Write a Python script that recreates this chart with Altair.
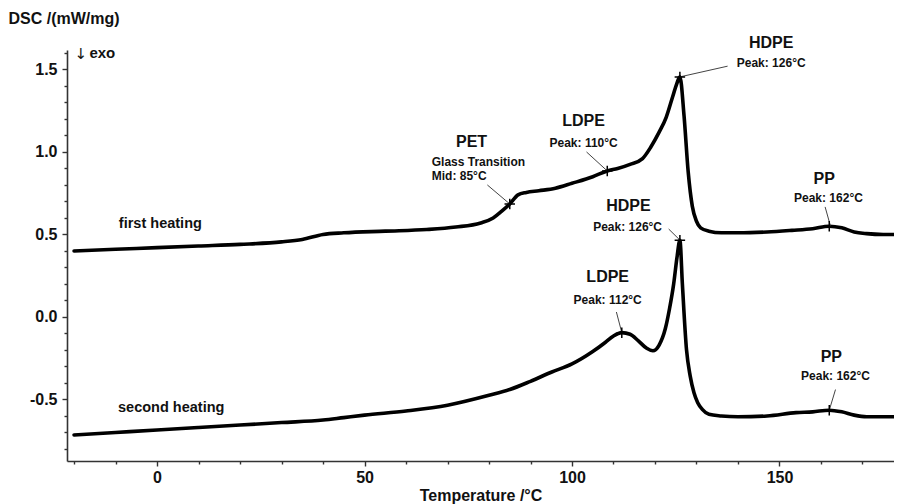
import altair as alt
import pandas as pd

# ---- curve data (Temperature °C, DSC mW/mg) ----
T_first = [-20, -10, 0, 10, 20, 30, 35, 40, 45, 55, 65, 72, 78, 81, 83, 85, 87, 89, 92, 96,
           100, 105, 108.5, 111, 114, 117, 119, 121, 122.7, 124.2, 125.2, 126, 127, 128, 129,
           130, 131, 133, 136, 140, 147, 153, 158, 162, 165, 168, 171, 175, 178]
V_first = [0.40, 0.41, 0.42, 0.43, 0.44, 0.455, 0.47, 0.50, 0.51, 0.52, 0.53, 0.545, 0.57, 0.60,
           0.64, 0.685, 0.74, 0.755, 0.765, 0.78, 0.81, 0.85, 0.885, 0.90, 0.925, 0.96, 1.03,
           1.12, 1.21, 1.33, 1.41, 1.455, 1.22, 0.88, 0.67, 0.58, 0.54, 0.52, 0.51, 0.51, 0.515,
           0.525, 0.535, 0.55, 0.54, 0.515, 0.505, 0.50, 0.50]

T_second = [-20, -10, 0, 10, 20, 30, 40, 45, 50, 60, 70, 80, 85, 90, 95, 100, 105, 108, 110,
            112, 114, 116, 118, 119.5, 121, 122.5, 123.5, 124.5, 125.3, 126, 126.6, 127.6, 128.5,
            129.4, 130.3, 131.4, 133, 136, 140, 147, 154, 158, 162, 165, 168, 171, 175, 178]
V_second = [-0.715, -0.70, -0.685, -0.67, -0.655, -0.64, -0.625, -0.61, -0.595, -0.57, -0.535,
            -0.475, -0.44, -0.39, -0.335, -0.285, -0.21, -0.155, -0.115, -0.095, -0.105, -0.145,
            -0.19, -0.205, -0.17, -0.07, 0.05, 0.20, 0.36, 0.465, 0.20, -0.20, -0.36, -0.46,
            -0.52, -0.56, -0.59, -0.60, -0.605, -0.60, -0.58, -0.575, -0.565, -0.575, -0.595,
            -0.605, -0.605, -0.605]

# ---- peak markers ----
mark_T = [85, 108.5, 126, 162, 112, 126, 162]
mark_V = [0.685, 0.885, 1.455, 0.55, -0.095, 0.465, -0.565]

# ---- leader lines (label end -> marker) ----
lead_T = [79.6, 103.5, 137.5, 161, 123.3, 110.7, 163.5]
lead_V = [0.80, 1.00, 1.52, 0.667, 0.533, 0.03, -0.44]
lead_T2 = [85, 108.5, 126, 162.3, 126, 112, 162]
lead_V2 = [0.685, 0.885, 1.455, 0.55, 0.466, -0.095, -0.565]

# ---- annotation texts ----
name_txt = ["PET", "LDPE", "HDPE", "PP", "HDPE", "LDPE", "PP"]
name_T = [75.8, 102.8, 148, 160.8, 113.6, 108.6, 162.5]
name_V = [1.06, 1.19, 1.66, 0.836, 0.673, 0.24, -0.24]

peak_txt = ["Peak: 110°C", "Peak: 126°C", "Peak: 162°C", "Peak: 126°C", "Peak: 112°C", "Peak: 162°C"]
peak_T = [102.8, 148, 161.8, 113.4, 108.6, 163.5]
peak_V = [1.055, 1.54, 0.72, 0.545, 0.10, -0.36]

gt_txt = ["Glass Transition", "Mid: 85°C"]
gt_T = [66.2, 66.2]
gt_V = [0.94, 0.855]

run_txt = ["first heating", "second heating"]
run_T = [-9.2, -9.4]
run_V = [0.565, -0.55]

arrow_txt = ["↓"]
arrow_T = [-19.9]
arrow_V = [1.595]
exo_txt = ["exo"]
exo_T = [-16.3]
exo_V = [1.60]

x_ticks = list(range(-20, 180, 10))
y_ticks = [round(i * 0.1, 1) for i in range(-8, 17)]

FONT = "Liberation Sans"
xs = alt.Scale(domain=[-21.7, 177.6], nice=False, zero=False)
ys = alt.Scale(domain=[-0.873, 1.618], nice=False, zero=False)

MAJ_Y = "abs(datum.value*2 - round(datum.value*2)) < 0.001"
x_axis = alt.Axis(
    values=x_ticks, title="Temperature /°C", grid=False,
    labelExpr="datum.value % 50 === 0 ? format(datum.value, 'd') : ''",
    labelOverlap=False, labelFlush=False,
    tickSize={"condition": {"test": "datum.value % 50 === 0", "value": 5}, "value": 3},
    labelFont=FONT, labelFontSize=16, labelFontWeight="bold", labelColor="#111",
    labelPadding=3, titleFont=FONT, titleFontSize=16, titleFontWeight="bold",
    titleColor="#111", titlePadding=2,
)
y_axis = alt.Axis(
    values=y_ticks, title="DSC /(mW/mg)", grid=False,
    labelExpr=MAJ_Y + " ? replace(format(datum.value, '.1f'), '\u2212', '-') : ''",
    labelOverlap=False, labelFlush=False,
    tickSize={"condition": {"test": MAJ_Y, "value": 5}, "value": 3},
    labelFont=FONT, labelFontSize=16, labelFontWeight="bold", labelColor="#111",
    labelPadding=5, titleFont=FONT, titleFontSize=16, titleFontWeight="bold",
    titleColor="#111", titleAngle=0, titleAlign="left", titleBaseline="middle",
    titleX=-59, titleY=-32,
)


def X(field):
    return alt.X(field, type="quantitative", scale=xs, axis=x_axis)


def Y(field):
    return alt.Y(field, type="quantitative", scale=ys, axis=y_axis)


lines_df = pd.DataFrame({
    "T": T_first + T_second,
    "v": V_first + V_second,
    "run": ["first"] * len(T_first) + ["second"] * len(T_second),
})

lines = alt.Chart(lines_df).mark_line(
    color="black", strokeWidth=3.6, interpolate="monotone", strokeCap="round", strokeJoin="round"
).encode(x=X("T"), y=Y("v"), detail="run:N")

leaders = alt.Chart(pd.DataFrame({"T": lead_T, "v": lead_V, "a2": lead_T2, "b2": lead_V2})).mark_rule(
    color="#444", strokeWidth=1
).encode(x=X("T"), y=Y("v"), x2="a2:Q", y2="b2:Q")

markers = alt.Chart(pd.DataFrame({"T": mark_T, "v": mark_V})).mark_point(
    shape="M-1,0L1,0M0,-1L0,1", size=110, color="black", strokeWidth=1.5, filled=False, opacity=1
).encode(x=X("T"), y=Y("v"))


def text_layer(txt, tx, ty, size, align="center", font=FONT, weight="bold"):
    df = pd.DataFrame({"t": txt, "T": tx, "v": ty})
    return alt.Chart(df).mark_text(
        font=font, fontSize=size, fontWeight=weight, color="#111", align=align, baseline="middle"
    ).encode(x=X("T"), y=Y("v"), text="t:N")


chart = alt.layer(
    lines, leaders, markers,
    text_layer(name_txt, name_T, name_V, 16),
    text_layer(peak_txt, peak_T, peak_V, 12),
    text_layer(gt_txt, gt_T, gt_V, 12, "left"),
    text_layer(run_txt, run_T, run_V, 14.5, "left"),
    text_layer(arrow_txt, arrow_T, arrow_V, 15, "left", "DejaVu Sans", "normal"),
    text_layer(exo_txt, exo_T, exo_V, 15, "left"),
).properties(
    width=827, height=411,
    autosize=alt.AutoSizeParams(type="none"),
    padding={"left": 59, "top": 42, "right": 0, "bottom": 43},
    background="white",
).configure_view(stroke=None).configure_axis(
    domainColor="#333", domainWidth=1.6, tickColor="#333", tickWidth=1.4
)

chart.save("out.html", embed_options={"renderer": "svg", "actions": False})
